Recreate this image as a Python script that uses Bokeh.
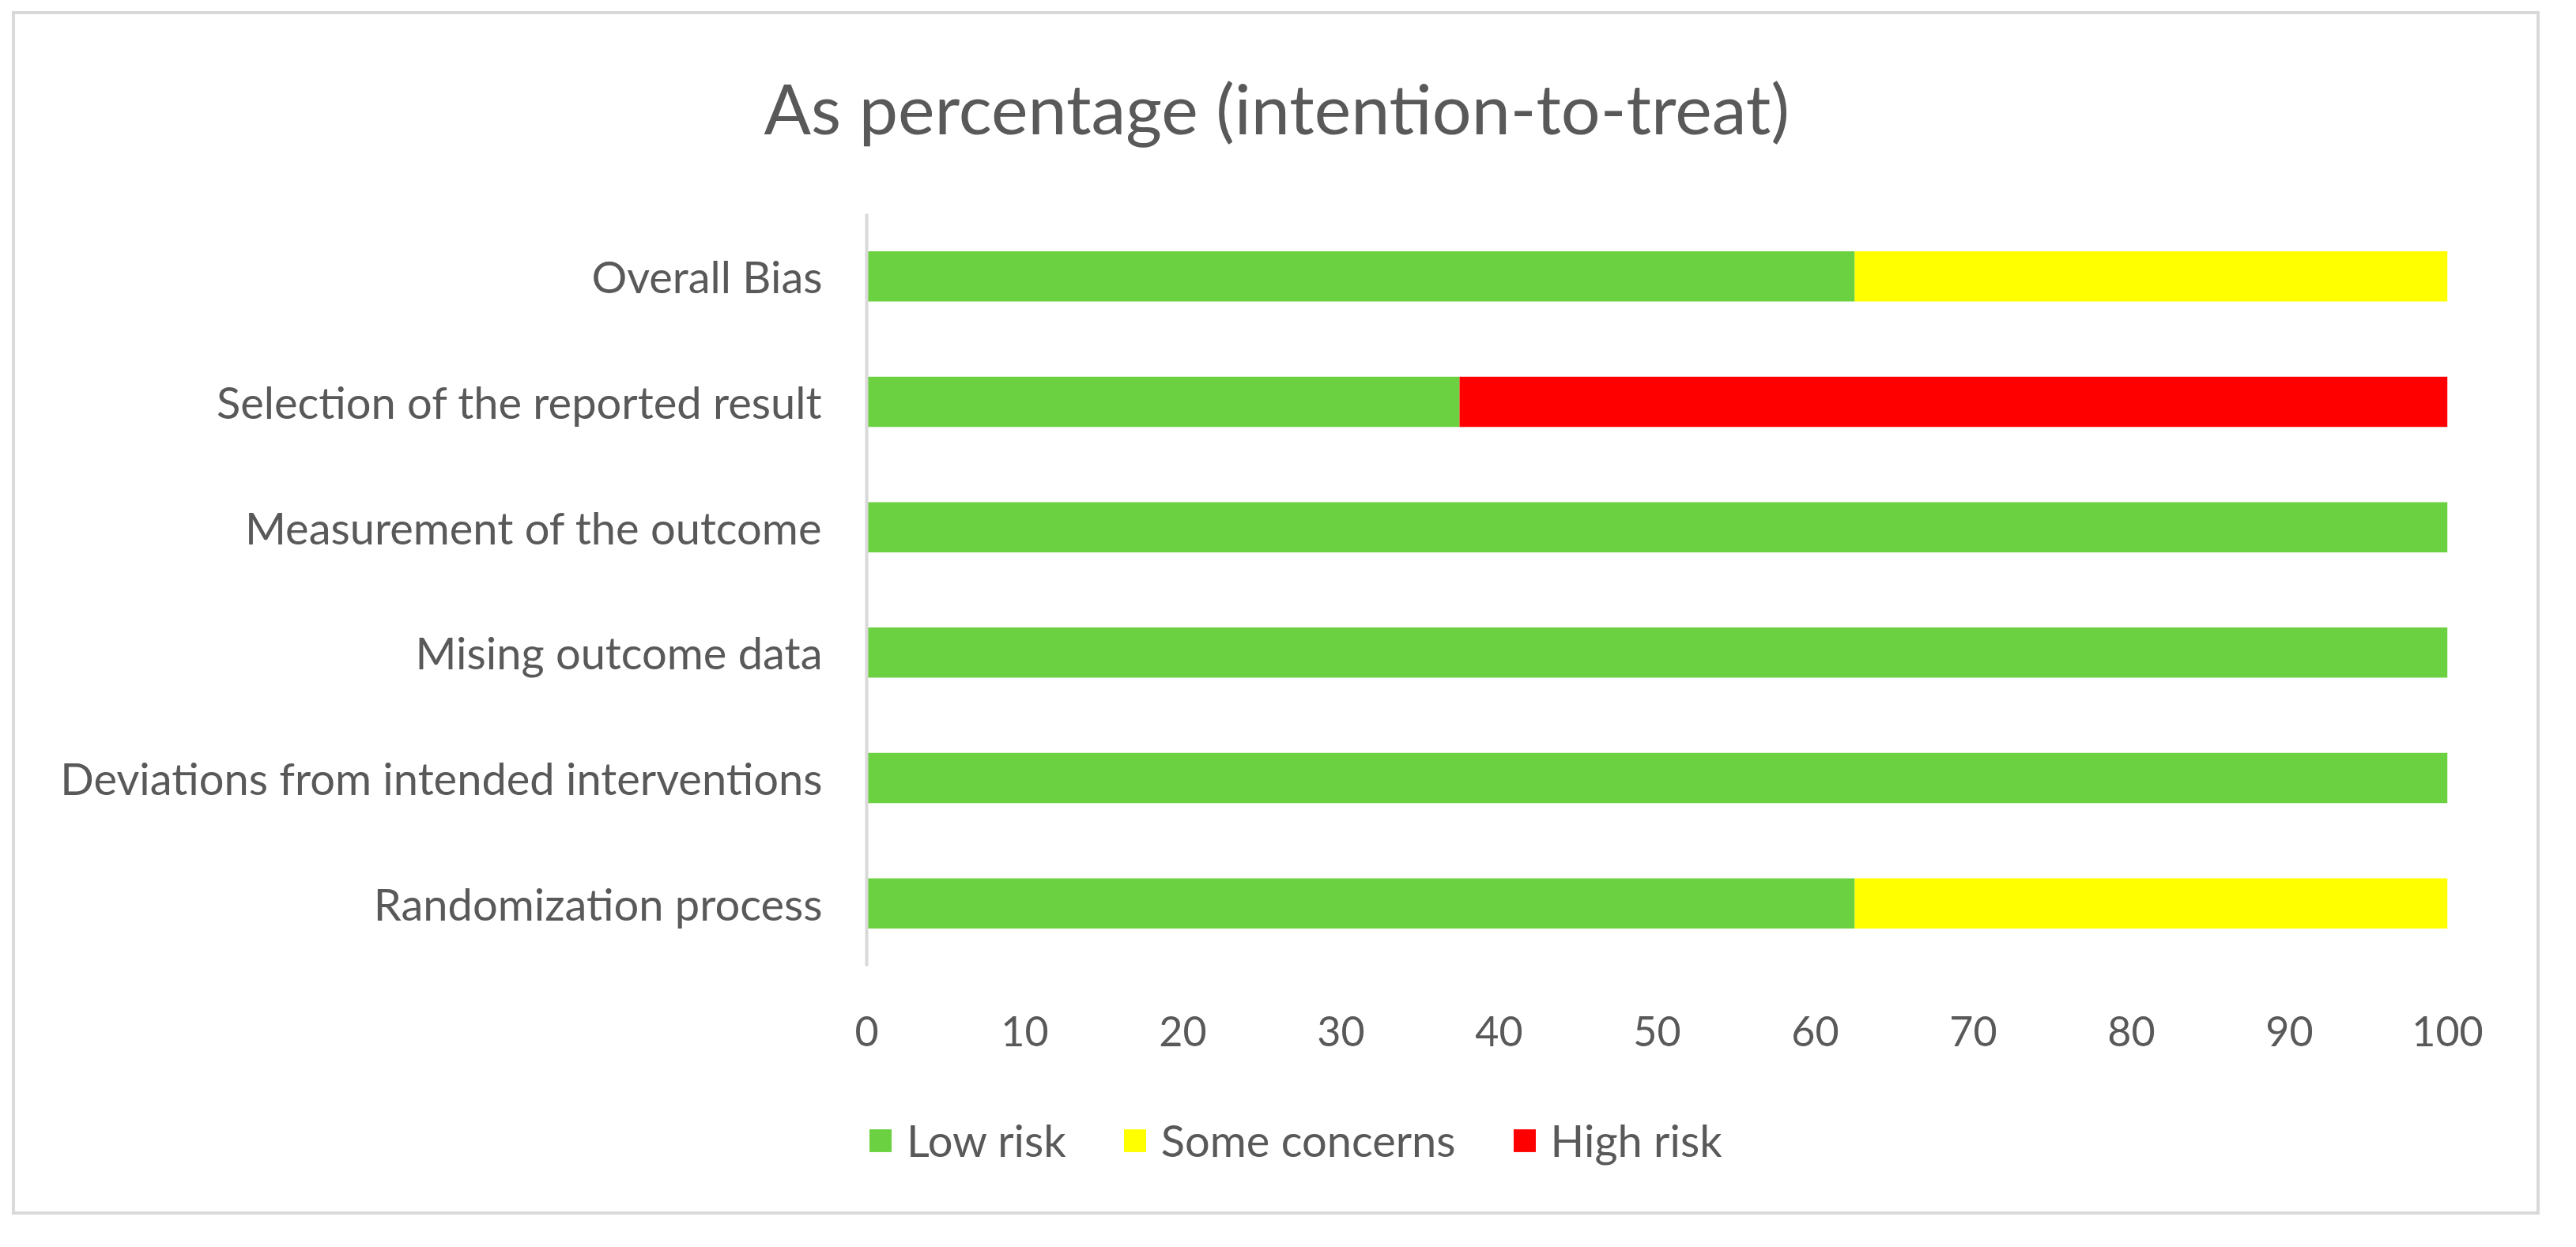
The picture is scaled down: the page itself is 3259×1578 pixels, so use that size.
from bokeh.plotting import figure
from bokeh.models import (ColumnDataSource, FactorRange, Range1d, FixedTicker, Legend,
                          LegendItem, Spacer)
from bokeh.layouts import row, column
from bokeh.embed import file_html
from bokeh.resources import INLINE

# ---- data ----
domains = [
    "Randomization process",
    "Deviations from intended interventions",
    "Mising outcome data",
    "Measurement of the outcome",
    "Selection of the reported result",
    "Overall Bias",
]
low_risk = [62.5, 100, 100, 100, 37.5, 62.5]
some_concerns = [37.5, 0, 0, 0, 0, 37.5]
high_risk = [0, 0, 0, 0, 62.5, 0]
series_names = ["Low risk", "Some concerns", "High risk"]
x_ticks = [0, 10, 20, 30, 40, 50, 60, 70, 80, 90, 100]
title_text = "As percentage (intention-to-treat)"

colors = ["#6BD140", "#FFFF00", "#FF0000"]
FONT = "Lato"
GRAY = "#595959"
EDGE = "4px solid #D9D9D9"

src = ColumnDataSource(dict(domain=domains, low=low_risk, some=some_concerns, high=high_risk))

W = 3198
H0, H1, H2 = 218, 1130, 175

# ---- title strip ----
p0 = figure(width=W, height=H0, x_range=Range1d(0, 1), y_range=Range1d(0, 1),
            x_axis_type=None, y_axis_type=None, title=title_text,
            min_border_top=186, min_border_bottom=0, min_border_left=0, min_border_right=0,
            output_backend="svg", toolbar_location=None)
p0.outline_line_color = None
p0.xgrid.visible = False
p0.ygrid.visible = False
p0.styles = {"border-top": EDGE, "border-left": EDGE, "border-right": EDGE}
p0.title.align = "left"
p0.title.offset = -130
p0.title.standoff = 32
p0.title.text_font = FONT
p0.title.text_font_size = "88px"
p0.title.text_font_style = "normal"
p0.title.text_color = GRAY

# ---- bars ----
p = figure(
    width=W, height=H1,
    y_range=FactorRange(*domains, range_padding=0, factor_padding=0),
    x_range=Range1d(0, 100),
    output_backend="svg", toolbar_location=None,
    min_border_left=1077, min_border_right=121,
    min_border_top=38, min_border_bottom=140,
)
p.styles = {"border-left": EDGE, "border-right": EDGE}

p.hbar_stack(["low", "some", "high"], y="domain", height=0.40, color=colors,
             line_color=None, source=src)

p.xaxis.ticker = FixedTicker(ticks=x_ticks)
p.xaxis.axis_line_color = None
p.xaxis.major_tick_line_color = None
p.xaxis.minor_tick_line_color = None
p.xaxis.major_label_text_font = FONT
p.xaxis.major_label_text_font_size = "52px"
p.xaxis.major_label_text_color = GRAY
p.xaxis.major_label_standoff = 57

p.yaxis.axis_line_color = "#D9D9D9"
p.yaxis.axis_line_width = 4
p.yaxis.major_tick_line_color = None
p.yaxis.minor_tick_line_color = None
p.yaxis.major_label_text_font = FONT
p.yaxis.major_label_text_font_size = "56px"
p.yaxis.major_label_text_color = GRAY
p.yaxis.major_label_standoff = 50

p.xgrid.visible = False
p.ygrid.visible = False
p.outline_line_color = None

# ---- legend strip (zero-height bars only provide the legend swatches) ----
p2 = figure(width=W, height=H2, x_range=Range1d(0, 1), y_range=FactorRange(*domains),
            x_axis_type=None, min_border=0,
            output_backend="svg", toolbar_location=None)
p2.yaxis.visible = False
p2.outline_line_color = None
p2.xgrid.visible = False
p2.ygrid.visible = False
p2.styles = {"border-bottom": EDGE, "border-left": EDGE, "border-right": EDGE}
rs = p2.hbar_stack(["low", "some", "high"], y="domain", height=0, color=colors,
                   line_color=None, source=src)

lg = Legend(items=[LegendItem(label=n, renderers=[r]) for n, r in zip(series_names, rs)])
lg.location = (0, 61)
lg.orientation = "horizontal"
lg.label_text_font = FONT
lg.label_text_font_size = "56px"
lg.label_text_color = GRAY
lg.glyph_width = 35
lg.glyph_height = 36
lg.label_standoff = 16
lg.spacing = 69
lg.padding = 0
lg.margin = 0
lg.border_line_color = None
lg.background_fill_alpha = 0
p2.add_layout(lg, "center")

layout = row(Spacer(width=15), column(Spacer(height=14), p0, p, p2))

open("out.html", "w").write(file_html(layout, INLINE))
